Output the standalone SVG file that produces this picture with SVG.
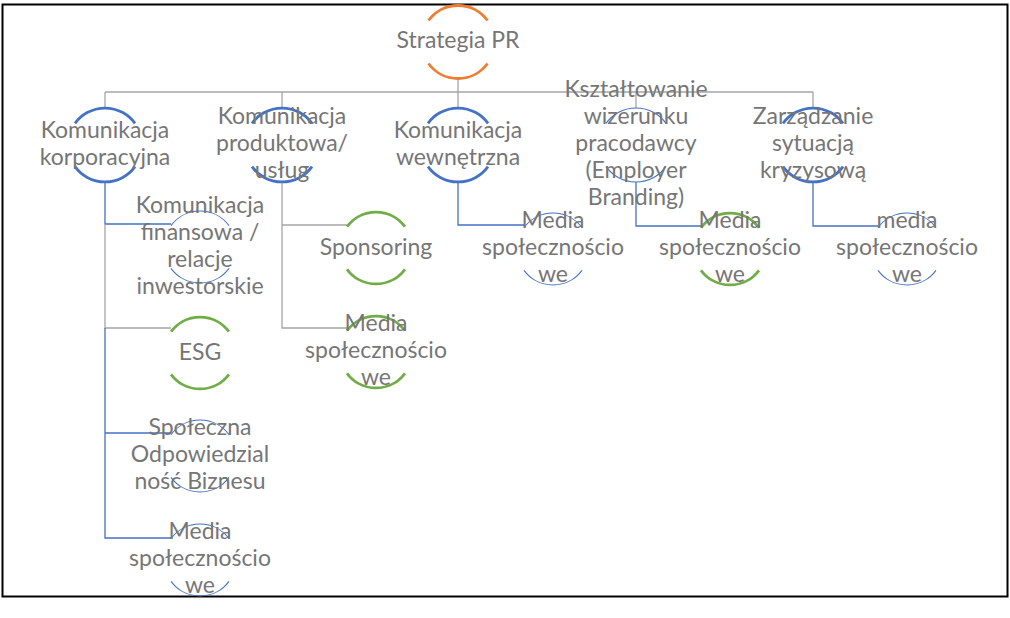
<svg xmlns="http://www.w3.org/2000/svg" width="1010" height="618" viewBox="0 0 1010 618">
<style>
text{font-family:Lato,"Liberation Sans",sans-serif;font-size:23px;fill:#767676;text-anchor:middle}
.arc{fill:none}
.o{stroke:#ED7D31;stroke-width:2.8}
.b{stroke:#4472C4;stroke-width:2.8}
.bt{stroke:#4472C4;stroke-width:1.1}
.g{stroke:#70AD47;stroke-width:2.8}
.cg{stroke:#A5A5A5;stroke-width:1.3;fill:none}
.cb{stroke:#4472C4;stroke-width:1.3;fill:none}
</style>
<rect x="0" y="0" width="1010" height="618" fill="#ffffff"/>
<rect x="2.5" y="4.5" width="1005" height="592" fill="none" stroke="#000" stroke-width="2"/>
<g id="connectors">
<path class="cg" d="M458 78V108M105 92H813M105 92V108M282 92V108M636 92V108M813 92V108"/>
<path class="cb" d="M105 182V224H171"/>
<path class="cg" d="M105 224V328H171"/>
<path class="cb" d="M105 328V538H171M105 433H171"/>
<path class="cg" d="M282 182V328H347M282 225H347"/>
<path class="cb" d="M458 182V225H524"/>
<path class="cb" d="M636 182V226H701"/>
<path class="cb" d="M813 182V226H878"/>
</g>
<g id="n-root">
<path class="arc o" d="M428.5 20.5A36.5 36.5 0 0 1 487.5 20.5M428.5 63.5A36.5 36.5 0 0 0 487.5 63.5"/>
<text x="458" y="48">Strategia PR</text>
</g>
<g id="n-korp">
<path class="arc b" d="M75 123.4A37 37 0 0 1 135 123.4M75 166.6A37 37 0 0 0 135 166.6"/>
<text x="105" y="137.5">Komunikacja</text>
<text x="105" y="164.5">korporacyjna</text>
</g>
<g id="n-prod">
<path class="arc b" d="M252 123.4A37 37 0 0 1 312 123.4M252 166.6A37 37 0 0 0 312 166.6"/>
<text x="282" y="124">Komunikacja</text>
<text x="282" y="151">produktowa/</text>
<text x="282" y="178">usług</text>
</g>
<g id="n-wewn">
<path class="arc b" d="M428 123.4A37 37 0 0 1 488 123.4M428 166.6A37 37 0 0 0 488 166.6"/>
<text x="458" y="137.5">Komunikacja</text>
<text x="458" y="164.5">wewnętrzna</text>
</g>
<g id="n-empl">
<path class="arc bt" d="M606 123.4A37 37 0 0 1 666 123.4M606 166.6A37 37 0 0 0 666 166.6"/>
<text x="636" y="97">Kształtowanie</text>
<text x="636" y="124">wizerunku</text>
<text x="636" y="151">pracodawcy</text>
<text x="636" y="178">(Employer</text>
<text x="636" y="205">Branding)</text>
</g>
<g id="n-kryz">
<path class="arc b" d="M783 123.4A37 37 0 0 1 843 123.4M783 166.6A37 37 0 0 0 843 166.6"/>
<text x="813" y="124">Zarządzanie</text>
<text x="813" y="151">sytuacją</text>
<text x="813" y="178">kryzysową</text>
</g>
<g id="n-fin">
<path class="arc bt" d="M171 225.7A36 36 0 0 1 229 225.7M171 268.3A36 36 0 0 0 229 268.3"/>
<text x="200" y="212.5">Komunikacja</text>
<text x="200" y="239.5">finansowa /</text>
<text x="200" y="266.5">relacje</text>
<text x="200" y="293.5">inwestorskie</text>
</g>
<g id="n-esg">
<path class="arc g" d="M171 331.7A36 36 0 0 1 229 331.7M171 374.3A36 36 0 0 0 229 374.3"/>
<text x="200" y="360">ESG</text>
</g>
<g id="n-csr">
<path class="arc bt" d="M171 434.7A36 36 0 0 1 229 434.7M171 477.3A36 36 0 0 0 229 477.3"/>
<text x="200" y="435">Społeczna</text>
<text x="200" y="462">Odpowiedzial</text>
<text x="200" y="489">ność Biznesu</text>
</g>
<g id="n-media1">
<path class="arc bt" d="M171 538.7A36 36 0 0 1 229 538.7M171 581.3A36 36 0 0 0 229 581.3"/>
<text x="200" y="539">Media</text>
<text x="200" y="566">społecznościo</text>
<text x="200" y="593">we</text>
</g>
<g id="n-spons">
<path class="arc g" d="M347 226.7A36 36 0 0 1 405 226.7M347 269.3A36 36 0 0 0 405 269.3"/>
<text x="376" y="255">Sponsoring</text>
</g>
<g id="n-media2">
<path class="arc g" d="M347 330.7A36 36 0 0 1 405 330.7M347 373.3A36 36 0 0 0 405 373.3"/>
<text x="376" y="331">Media</text>
<text x="376" y="358">społecznościo</text>
<text x="376" y="385">we</text>
</g>
<g id="n-media3">
<path class="arc bt" d="M524 227.7A36 36 0 0 1 582 227.7M524 270.3A36 36 0 0 0 582 270.3"/>
<text x="553" y="228">Media</text>
<text x="553" y="255">społecznościo</text>
<text x="553" y="282">we</text>
</g>
<g id="n-media4">
<path class="arc g" d="M701 227.7A36 36 0 0 1 759 227.7M701 270.3A36 36 0 0 0 759 270.3"/>
<text x="730" y="228">Media</text>
<text x="730" y="255">społecznościo</text>
<text x="730" y="282">we</text>
</g>
<g id="n-media5">
<path class="arc bt" d="M878 227.7A36 36 0 0 1 936 227.7M878 270.3A36 36 0 0 0 936 270.3"/>
<text x="907" y="228">media</text>
<text x="907" y="255">społecznościo</text>
<text x="907" y="282">we</text>
</g>
</svg>
